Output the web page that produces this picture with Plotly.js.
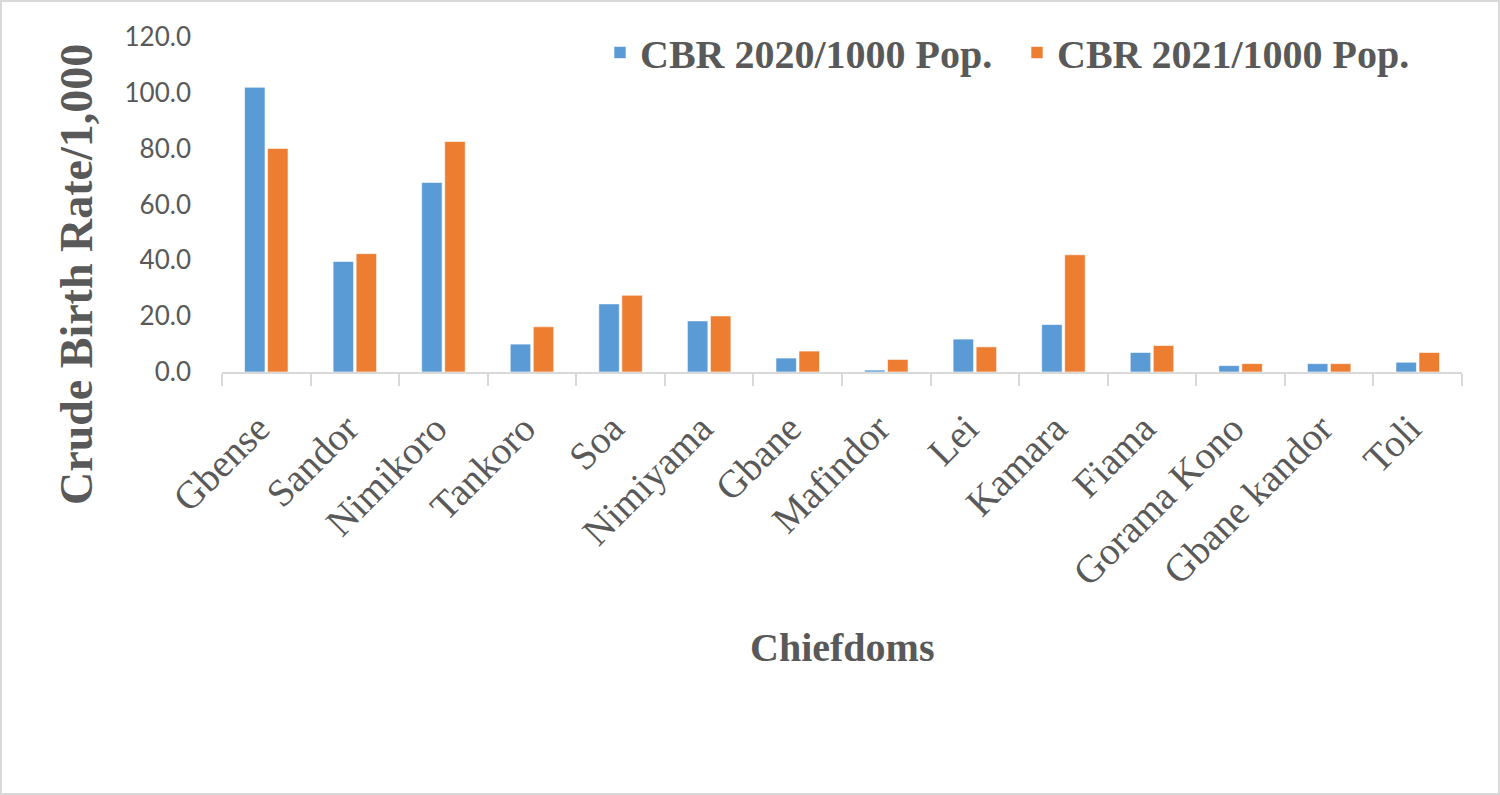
<!DOCTYPE html>
<html>
<head>
<meta charset="utf-8">
<script src="https://cdn.plot.ly/plotly-3.0.1.min.js"></script>
<style>
  html, body { margin: 0; padding: 0; background: #ffffff; }
  #wrap { position: relative; width: 1500px; height: 795px; }
  #chart { width: 1500px; height: 795px; }
  #frame { position: absolute; left: 0; top: 0; width: 1500px; height: 795px; box-sizing: border-box;
           border: 2px solid #d9d9d9; pointer-events: none; }
</style>
</head>
<body>
<div id="wrap"><div id="chart"></div><div id="frame"></div></div>
<script>
const chiefdoms = ["Gbense", "Sandor", "Nimikoro", "Tankoro", "Soa", "Nimiyama", "Gbane",
                   "Mafindor", "Lei", "Kamara", "Fiama", "Gorama Kono", "Gbane kandor", "Toli"];
const cbr2020 = [102.0, 39.6, 67.9, 10.0, 24.4, 18.3, 5.0, 0.7, 11.8, 17.0, 7.0, 2.3, 3.0, 3.5];
const cbr2021 = [80.1, 42.4, 82.6, 16.2, 27.5, 20.1, 7.5, 4.5, 9.0, 42.0, 9.5, 3.0, 3.0, 7.0];
const seriesNames = ["CBR 2020/1000 Pop.", "CBR 2021/1000 Pop."];
const yTicks = [0, 20, 40, 60, 80, 100, 120];

const gray = "#595959";
const data = [
  { type: "bar", name: seriesNames[0], x: chiefdoms, y: cbr2020,
    marker: { color: "#5B9BD5", line: { color: "rgba(255,255,255,0.6)", width: 1 } } },
  { type: "bar", name: seriesNames[1], x: chiefdoms, y: cbr2021,
    marker: { color: "#ED7D31", line: { color: "rgba(255,255,255,0.6)", width: 1 } } }
];

// plot area: x 222..1462, y 37..372 (px)
const L = 222, R = 1462, T = 37, B = 372;
const px2x = v => (v - L) / (R - L);
const px2y = v => (B - v) / (B - T);

const layout = {
  width: 1500, height: 795,
  paper_bgcolor: "#ffffff", plot_bgcolor: "#ffffff",
  margin: { l: L, r: 1500 - R, t: T, b: 795 - B, autoexpand: false },
  barmode: "group", bargap: 0.48, bargroupgap: 0.11,
  showlegend: true,
  legend: {
    orientation: "h", xref: "paper", yref: "paper",
    x: px2x(600), y: px2y(20), xanchor: "left", yanchor: "top",
    font: { family: "Liberation Serif", size: 40, color: gray, weight: "bold" },
    itemwidth: 30, tracegroupgap: 0, bgcolor: "rgba(0,0,0,0)",
    entrywidth: 372, entrywidthmode: "pixels"
  },
  xaxis: {
    type: "category",
    tickangle: -45,
    tickfont: { family: "Liberation Serif", size: 39, color: gray },
    showline: true, linecolor: "#d9d9d9", linewidth: 2,
    ticks: "outside", tickson: "boundaries", ticklen: 12, tickcolor: "#d9d9d9", tickwidth: 2,
    ticklabelstandoff: 16, ticklabelshift: -8,
    showgrid: false, zeroline: false, automargin: false, fixedrange: true
  },
  yaxis: {
    range: [0, 120], tickvals: yTicks, tickformat: ".1f",
    tickfont: { family: "Lato", size: 26, color: gray },
    showgrid: false, zeroline: false, showline: false, ticks: "",
    ticklabelstandoff: 30, automargin: false, fixedrange: true
  },
  annotations: [
    { text: "<b>Chiefdoms</b>", xref: "paper", yref: "paper", x: 0.5, y: px2y(647),
      xanchor: "center", yanchor: "middle", showarrow: false,
      font: { family: "Liberation Serif", size: 40, color: gray } },
    { text: "<b>Crude Birth Rate/1,000</b>", xref: "paper", yref: "paper",
      x: px2x(76), y: px2y(275), xanchor: "center", yanchor: "middle", textangle: -90,
      showarrow: false, font: { family: "Liberation Serif", size: 46, color: gray } }
  ]
};

Plotly.newPlot("chart", data, layout, { displayModeBar: false, staticPlot: true });
</script>
</body>
</html>
